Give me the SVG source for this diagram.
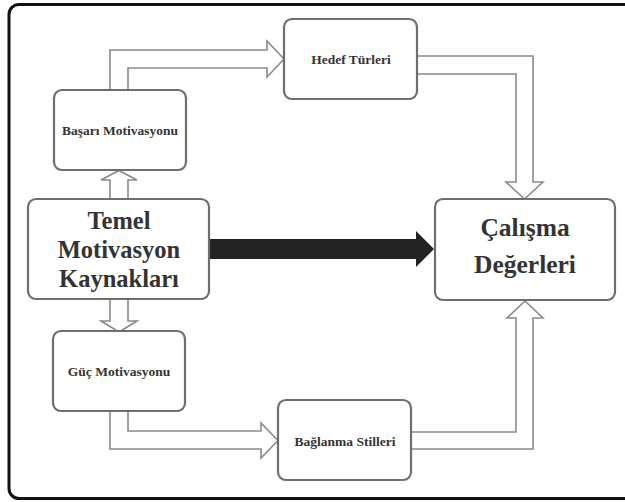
<svg xmlns="http://www.w3.org/2000/svg" width="625" height="502" viewBox="0 0 625 502">
<style>
.box{fill:#fff;stroke:#6e6e6e;stroke-width:2.2}
.lbl{font-family:"Liberation Serif","Times New Roman",serif;font-weight:bold;fill:#333;text-anchor:middle}
.sm{font-size:13.5px}
.big{font-size:24.5px}
.hol{fill:#fff;stroke:#8a8a8a;stroke-width:1.6;stroke-linejoin:miter}
</style>
<rect x="0" y="0" width="625" height="502" fill="#fff"/>
<rect x="9" y="4.5" width="630" height="494" rx="10" fill="none" stroke="#111" stroke-width="3"/>
<g id="connectors">
<path class="hol" d="M110,90 V50 H267 V41 L284,59 L267,77 V68 H128 V90"/>
<path class="hol" d="M417,56 H533 V182 H543 L524.5,199 L506,182 H516 V74 H417"/>
<path class="hol" d="M110,199 V180 H101 L119,170.5 L137,180 H128 V199"/>
<path class="hol" d="M110,299 V321 H101 L119,332 L137,321 H128 V299"/>
<path class="hol" d="M128,411 V431 H261 V423 L278,440.5 L261,458 V449 H110 V411"/>
<path class="hol" d="M411,432 H516 V318 H507 L525,301 L543,318 H533 V449 H411"/>
<path d="M209,239 H416 V231 L434,249 L416,267 V259 H209 Z" fill="#232323"/>
</g>
<g id="basari">
<rect class="box" x="54" y="90" width="132" height="80" rx="8"/>
<text class="lbl sm" x="120" y="135">Başarı Motivasyonu</text>
</g>
<g id="hedef">
<rect class="box" x="284" y="19" width="133" height="80" rx="8"/>
<text class="lbl sm" x="351" y="64">Hedef Türleri</text>
</g>
<g id="temel">
<rect class="box" x="28" y="199" width="181" height="100" rx="8"/>
<text class="lbl big" x="119" y="229">Temel</text>
<text class="lbl big" x="119" y="258">Motivasyon</text>
<text class="lbl big" x="119" y="287">Kaynakları</text>
</g>
<g id="calisma">
<rect class="box" x="435" y="199" width="180" height="101" rx="8"/>
<text class="lbl big" x="525" y="236" style="font-size:25.5px">Çalışma</text>
<text class="lbl big" x="525" y="273" style="font-size:25.5px">Değerleri</text>
</g>
<g id="guc">
<rect class="box" x="53" y="331" width="132" height="80" rx="8"/>
<text class="lbl sm" x="119" y="376">Güç Motivasyonu</text>
</g>
<g id="baglanma">
<rect class="box" x="278" y="400" width="133" height="80" rx="8"/>
<text class="lbl sm" x="345" y="446">Bağlanma Stilleri</text>
</g>
</svg>
